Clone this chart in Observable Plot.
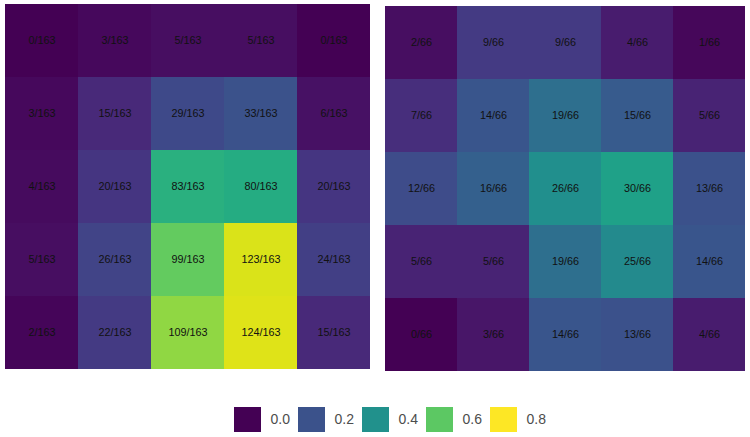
<!DOCTYPE html>
<html>
<head>
<meta charset="utf-8">
<script src="https://cdn.jsdelivr.net/npm/d3@7"></script>
<script src="https://cdn.jsdelivr.net/npm/@observablehq/plot@0.6"></script>
<style>
  html, body { margin: 0; padding: 0; background: #fff; }
  #wrap { width: 750px; }
  #panels { display: flex; flex-direction: row; }
  svg { display: block; }
</style>
</head>
<body>
<div id="wrap">
  <div id="panels"></div>
  <div id="legend"></div>
</div>
<script>
// Columns and rows of each 5x5 grid (rows listed top to bottom)
const cols = [1, 2, 3, 4, 5];
const rows = [1, 2, 3, 4, 5];

// Left panel counts (out of 163)
const leftTotal = 163;
const leftCounts = [
  [0, 3, 5, 5, 0],
  [3, 15, 29, 33, 6],
  [4, 20, 83, 80, 20],
  [5, 26, 99, 123, 24],
  [2, 22, 109, 124, 15]
];

// Right panel counts (out of 66)
const rightTotal = 66;
const rightCounts = [
  [2, 9, 9, 4, 1],
  [7, 14, 19, 15, 5],
  [12, 16, 26, 30, 13],
  [5, 5, 19, 25, 14],
  [0, 3, 14, 13, 4]
];

// Legend breaks
const legendBreaks = [0.0, 0.2, 0.4, 0.6, 0.8];
const legendLabels = ["0.0", "0.2", "0.4", "0.6", "0.8"];

const colorScale = { type: "linear", scheme: "viridis", domain: [0, 0.8] };

function toTable(counts, total) {
  const out = [];
  rows.forEach((r, i) => cols.forEach((c, j) => {
    const n = counts[i][j];
    out.push({ row: r, col: c, n, total, frac: n / total });
  }));
  return out;
}

function panel(data, opts) {
  return Plot.plot({
    width: opts.width,
    height: opts.height,
    marginLeft: opts.ml,
    marginRight: opts.mr,
    marginTop: opts.mt,
    marginBottom: opts.mb,
    x: { type: "band", domain: cols, padding: 0, axis: null },
    y: { type: "band", domain: rows, padding: 0, axis: null },
    color: colorScale,
    style: { background: "#fff" },
    marks: [
      Plot.cell(data, { x: "col", y: "row", fill: "frac", shapeRendering: "crispEdges" }),
      Plot.text(data, {
        x: "col", y: "row",
        text: d => `${d.n}/${d.total}`,
        fill: "#111",
        fontSize: 10.8,
        fontFamily: "Liberation Sans, Arial, sans-serif"
      })
    ]
  });
}

const left = panel(toTable(leftCounts, leftTotal), { width: 375, height: 375, ml: 3, mr: 4, mt: 2, mb: 5 });
const right = panel(toTable(rightCounts, rightTotal), { width: 375, height: 375, ml: 8, mr: 4, mt: 5, mb: 4 });
document.getElementById("panels").append(left, right);

const legendData = legendBreaks.map((v, i) => ({ v, label: legendLabels[i], y: "k" }));
const legend = Plot.plot({
  width: 750,
  height: 62,
  marginLeft: 234,
  marginRight: 196,
  marginTop: 32,
  marginBottom: 5,
  x: { type: "band", domain: legendLabels, padding: 0, axis: null },
  y: { type: "band", domain: ["k"], padding: 0, axis: null },
  color: colorScale,
  marks: [
    Plot.cell(legendData, { x: "label", y: "y", fill: "v", insetRight: 37 }),
    Plot.text(legendData, {
      x: "label", y: "y", text: "label",
      textAnchor: "start", dx: 4,
      fill: "#4d4d4d",
      fontSize: 14,
      fontFamily: "Liberation Sans, Arial, sans-serif"
    })
  ]
});
document.getElementById("legend").append(legend);
</script>
</body>
</html>
